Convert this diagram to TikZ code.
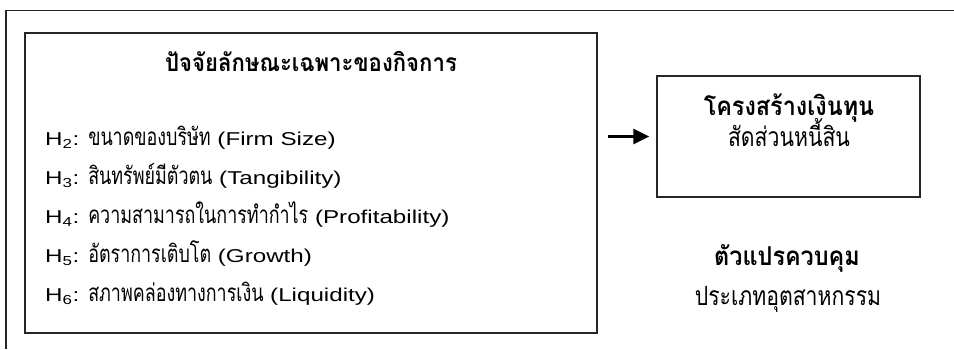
\documentclass[tikz,border=0pt]{standalone}
\usepackage{fontspec}
\setmainfont{Liberation Sans}[FakeStretch=1.3]
\newfontfamily\thai{Loma}[Script=Thai,FakeStretch=0.74]
\newfontfamily\thaic{Loma}[Script=Thai,FakeStretch=0.8]
\newfontfamily\thaib{Loma}[Script=Thai,FakeStretch=0.9]
\newcommand\thr[1]{{\fontsize{24.2}{27}\selectfont\thai #1}}
\usetikzlibrary{arrows.meta}
\begin{document}
\begin{tikzpicture}[x=1pt,y=-1pt,
  boxframe/.style={draw=black!85, line width=1.3pt, inner sep=0pt},
  txt/.style={inner sep=0pt, font=\fontsize{18.6}{22}\selectfont},
  ttl/.style={inner sep=0pt, font=\fontsize{26}{29}\selectfont\thaib\bfseries},
  thtxt/.style={inner sep=0pt, font=\fontsize{26.5}{30}\selectfont\thaic},
  arr/.style={line width=3pt, -{Triangle[length=16pt,width=15pt]}}]
\useasboundingbox (0,0) rectangle (954,349);
\draw[line width=1.4pt, draw=black!85] (6,349) -- (6,10.5) -- (954,10.5);
% boxes
\node[boxframe, minimum width=572pt, minimum height=300pt] (left) at (311,183) {};
\node[boxframe, minimum width=263pt, minimum height=121pt] (right) at (788.5,136.5) {};
% left box texts
\node[ttl, anchor=base, font=\fontsize{24.6}{27}\selectfont\thaib\bfseries] (lt) at (311,71) {ปัจจัยลักษณะเฉพาะของกิจการ};
\node[txt, anchor=base west] (h2) at (45,145) {H\textsubscript{2}: \thr{ขนาดของบริษัท} (Firm Size)};
\node[txt, anchor=base west] (h3) at (45,184) {H\textsubscript{3}: \thr{สินทรัพย์มีตัวตน} (Tangibility)};
\node[txt, anchor=base west] (h4) at (45,223) {H\textsubscript{4}: \thr{ความสามารถในการทำกำไร} (Profitability)};
\node[txt, anchor=base west] (h5) at (45,262) {H\textsubscript{5}: \thr{อัตราการเติบโต} (Growth)};
\node[txt, anchor=base west] (h6) at (45,301) {H\textsubscript{6}: \thr{สภาพคล่องทางการเงิน} (Liquidity)};
% right box texts
\node[ttl, anchor=base] (rt) at (789,115) {โครงสร้างเงินทุน};
\node[thtxt, anchor=base] (rs) at (789,146) {สัดส่วนหนี้สิน};
% control variable
\node[ttl, anchor=base] (ct) at (787,265) {ตัวแปรควบคุม};
\node[thtxt, anchor=base] (cs) at (788,305) {ประเภทอุตสาหกรรม};
% arrow
\draw[arr] ([xshift=10pt]left.east |- right.west) -- ([xshift=-7pt]right.west);
\end{tikzpicture}
\end{document}
